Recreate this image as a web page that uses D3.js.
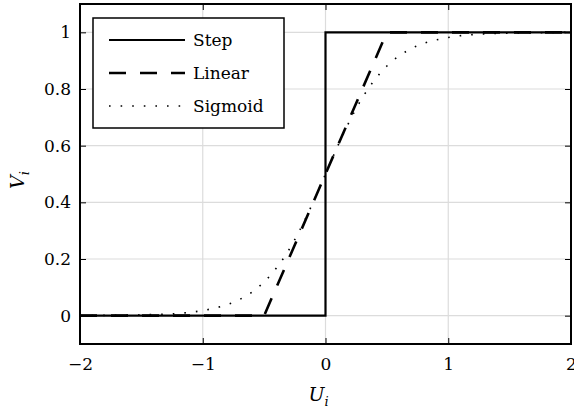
<!DOCTYPE html>
<html>
<head>
<meta charset="utf-8">
<script src="https://cdn.jsdelivr.net/npm/d3@7"></script>
<style>
  body { margin: 0; background: #fff; }
</style>
</head>
<body>
<div id="chart"></div>
<script>
// data
const xTicks = [-2, -1, 0, 1, 2];
const yTicks = [0, 0.2, 0.4, 0.6, 0.8, 1];
const seriesNames = ["Step", "Linear", "Sigmoid"];

const stepX = [-2, 0, 0, 2];
const stepY = [0, 0, 1, 1];

const linearX = [-2, -0.5, 0.5, 2];
const linearY = [0, 0, 1, 1];

const sigmoidX = [-2, -1.8, -1.6, -1.4, -1.2, -1, -0.9, -0.8, -0.7, -0.6, -0.5, -0.4, -0.3, -0.2, -0.1,
                  0, 0.1, 0.2, 0.3, 0.4, 0.5, 0.6, 0.7, 0.8, 0.9, 1, 1.2, 1.4, 1.6, 1.8, 2];
const sigmoidY = [0.000, 0.001, 0.002, 0.004, 0.008, 0.018, 0.027, 0.039, 0.057, 0.083, 0.119, 0.168, 0.231, 0.310, 0.401,
                  0.500, 0.599, 0.690, 0.769, 0.832, 0.881, 0.917, 0.943, 0.961, 0.973, 0.982, 0.992, 0.996, 0.998, 0.999, 1.000];

const serif = "DejaVu Serif";

const margin = { top: 4, right: 3, bottom: 66, left: 80 };
const width = 574 - margin.left - margin.right;
const height = 410 - margin.top - margin.bottom;

const x = d3.scaleLinear().domain([-2, 2]).range([0, width]);
const y = d3.scaleLinear().domain([-0.1, 1.1]).range([height, 0]);

const svg = d3.select("#chart")
    .append("svg")
    .attr("width", 574)
    .attr("height", 410)
    .append("g")
    .attr("transform", `translate(${margin.left},${margin.top})`);

// grid
svg.append("g")
    .selectAll("line")
    .data(xTicks)
    .join("line")
    .attr("x1", d => x(d)).attr("x2", d => x(d))
    .attr("y1", 0).attr("y2", height)
    .attr("stroke", "#dcdcdc").attr("stroke-width", 1.2);

svg.append("g")
    .selectAll("line")
    .data(yTicks)
    .join("line")
    .attr("y1", d => y(d)).attr("y2", d => y(d))
    .attr("x1", 0).attr("x2", width)
    .attr("stroke", "#dcdcdc").attr("stroke-width", 1.2);

// axes with inward ticks
const tick = 6;
svg.append("g")
    .attr("transform", `translate(0,${height})`)
    .call(d3.axisBottom(x).tickValues(xTicks).tickSizeInner(-tick).tickSizeOuter(0).tickPadding(14)
        .tickFormat(d => d < 0 ? "\u2212" + Math.abs(d) : String(d)));
svg.append("g")
    .call(d3.axisLeft(y).tickValues(yTicks).tickSizeInner(-tick).tickSizeOuter(0).tickPadding(9)
        .tickFormat(d => String(d)));
svg.append("g")
    .call(d3.axisTop(x).tickValues(xTicks).tickSizeInner(-tick).tickSizeOuter(0).tickFormat(""));
svg.append("g")
    .attr("transform", `translate(${width},0)`)
    .call(d3.axisRight(y).tickValues(yTicks).tickSizeInner(-tick).tickSizeOuter(0).tickFormat(""));

svg.selectAll(".domain").remove();
svg.selectAll(".tick line").attr("stroke", "#000").attr("stroke-width", 1);
svg.selectAll(".tick text").attr("font-size", 17).style("font-family", serif).attr("fill", "#000");

// series
const line = d3.line().x(d => x(d[0])).y(d => y(d[1]));
const smooth = d3.line().x(d => x(d[0])).y(d => y(d[1])).curve(d3.curveMonotoneX);

const styles = [
    { dash: null, width: 2.2 },
    { dash: "17,14", width: 2.6 },
    { dash: "1.6,10", width: 1.6 }
];

const plot = svg.append("g");
plot.append("path")
    .datum(d3.zip(sigmoidX, sigmoidY))
    .attr("fill", "none").attr("stroke", "#000")
    .attr("stroke-width", styles[2].width).attr("stroke-dasharray", styles[2].dash)
    .attr("d", smooth);
plot.append("path")
    .datum(d3.zip(linearX, linearY))
    .attr("fill", "none").attr("stroke", "#000")
    .attr("stroke-width", styles[1].width).attr("stroke-dasharray", styles[1].dash)
    .attr("d", line);
plot.append("path")
    .datum(d3.zip(stepX, stepY))
    .attr("fill", "none").attr("stroke", "#000")
    .attr("stroke-width", styles[0].width)
    .attr("d", line);

// frame
svg.append("rect")
    .attr("width", width).attr("height", height)
    .attr("fill", "none").attr("stroke", "#000").attr("stroke-width", 2);

// legend
const lg = svg.append("g").attr("transform", "translate(13,14)");
lg.append("rect")
    .attr("width", 191).attr("height", 110)
    .attr("fill", "#fff").attr("stroke", "#000").attr("stroke-width", 1.5);
seriesNames.forEach((name, i) => {
    const yy = 22 + i * 33;
    lg.append("line")
        .attr("x1", 16).attr("x2", 92).attr("y1", yy).attr("y2", yy)
        .attr("stroke", "#000").attr("stroke-width", styles[i].width)
        .attr("stroke-dasharray", styles[i].dash);
    lg.append("text")
        .attr("x", 100).attr("y", yy + 6)
        .attr("font-size", 17)
        .style("font-family", serif)
        .text(name);
});

// axis labels
svg.append("text")
    .attr("x", width / 2 - 7).attr("y", height + 57)
    .attr("text-anchor", "middle")
    .attr("font-size", 19).attr("font-style", "italic")
    .style("font-family", serif)
    .html('U<tspan font-size="13" dy="5">i</tspan>');

svg.append("text")
    .attr("transform", `translate(${-56},${y(0.5) + 6}) rotate(-90)`)
    .attr("text-anchor", "middle")
    .attr("font-size", 19).attr("font-style", "italic")
    .style("font-family", serif)
    .html('V<tspan font-size="13" dy="5">i</tspan>');
</script>
</body>
</html>
